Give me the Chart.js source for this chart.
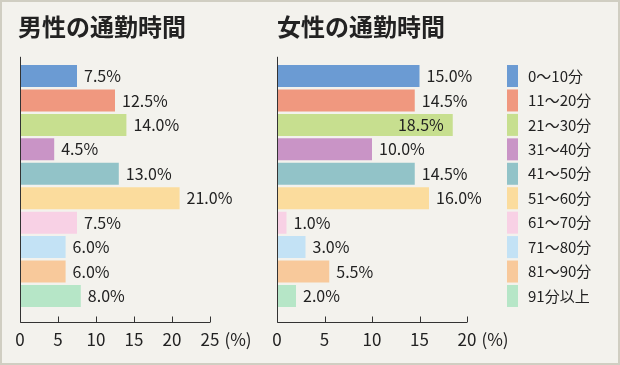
<!DOCTYPE html>
<html lang="ja">
<head>
<meta charset="utf-8">
<script src="https://cdn.jsdelivr.net/npm/chart.js@4"></script>
<style>
html, body { margin: 0; padding: 0; }
body { width: 620px; height: 365px; background: #f3f2ed; position: relative; overflow: hidden; }
#frame { position: absolute; left: 0; top: 0; width: 620px; height: 365px; box-sizing: border-box; border: 2px solid #d0cec2; pointer-events: none; }
#male { position: absolute; left: 0; top: 0; }
#female { position: absolute; left: 260px; top: 0; }
</style>
</head>
<body>
<canvas id="male" width="260" height="365"></canvas>
<canvas id="female" width="360" height="365"></canvas>
<div id="frame"></div>
<script>
var categories = ['0～10分', '11～20分', '21～30分', '31～40分', '41～50分', '51～60分', '61～70分', '71～80分', '81～90分', '91分以上'];
var maleValues = [7.5, 12.5, 14.0, 4.5, 13.0, 21.0, 7.5, 6.0, 6.0, 8.0];
var femaleValues = [15.0, 14.5, 18.5, 10.0, 14.5, 16.0, 1.0, 3.0, 5.5, 2.0];
var barColors = ['#6b9bd3', '#f0987f', '#c7df8f', '#c994c6', '#92c3c8', '#fbdc9d', '#f8d1e5', '#c3e2f5', '#f8c99b', '#b6e6c7'];
var maleTicks = [0, 5, 10, 15, 20, 25];
var femaleTicks = [0, 5, 10, 15, 20];

var FONT = '"Noto Sans CJK JP", "Noto Sans", sans-serif';
var TICK_PAD = 13;
var TICK_SIZE = 17;

// 棒の先に値を書く（はみ出す時は棒の中）
var barLabels = {
    id: 'barLabels',
    afterDatasetsDraw: function (chart, args, opts) {
        var ctx = chart.ctx;
        var meta = chart.getDatasetMeta(0);
        var values = chart.data.datasets[0].data;
        ctx.save();
        ctx.font = '16px ' + FONT;
        ctx.fillStyle = '#222';
        ctx.textBaseline = 'middle';
        meta.data.forEach(function (bar, i) {
            var text = values[i].toFixed(1) + '%';
            var w = ctx.measureText(text).width;
            if (bar.x + 7 + w > opts.limit) {
                ctx.textAlign = 'right';
                ctx.fillText(text, bar.x - 9, bar.y);
            } else {
                ctx.textAlign = 'left';
                ctx.fillText(text, bar.x + 7, bar.y);
            }
        });
        ctx.restore();
    }
};

// 軸の線と目盛り
var axisLines = {
    id: 'axisLines',
    afterDraw: function (chart) {
        var ctx = chart.ctx;
        var area = chart.chartArea;
        var xs = chart.scales.x;
        var base = Math.round(area.bottom + 14) + 0.5;
        var left = Math.round(area.left) + 0.5;
        ctx.save();
        ctx.strokeStyle = '#333';
        ctx.lineWidth = 1;
        ctx.beginPath();
        ctx.moveTo(left, area.top - 7);
        ctx.lineTo(left, base);
        ctx.lineTo(xs.getPixelForValue(xs.max), base);
        xs.ticks.forEach(function (t) {
            var x = Math.round(xs.getPixelForValue(t.value)) + 0.5;
            ctx.moveTo(x, base);
            ctx.lineTo(x, base - 6);
        });
        ctx.stroke();

        ctx.font = TICK_SIZE + 'px ' + FONT;
        ctx.fillStyle = '#222';
        ctx.textBaseline = 'middle';
        ctx.textAlign = 'left';
        var last = xs.ticks[xs.ticks.length - 1];
        var lw = ctx.measureText(String(last.value)).width;
        var ly = xs.top + 8 + TICK_PAD + TICK_SIZE * 1.2 / 2;
        ctx.fillText('(%)', xs.getPixelForValue(last.value) + lw / 2 + 5, ly);
        ctx.restore();
    }
};

// 右側の凡例
var sideLegend = {
    id: 'sideLegend',
    afterDraw: function (chart, args, opts) {
        if (!opts.show) return;
        var ctx = chart.ctx;
        var ys = chart.scales.y;
        var meta = chart.getDatasetMeta(0);
        ctx.save();
        ctx.font = '15px ' + FONT;
        ctx.textBaseline = 'middle';
        ctx.textAlign = 'left';
        chart.data.labels.forEach(function (label, i) {
            var y = ys.getPixelForValue(i);
            var h = meta.data[i].height;
            ctx.fillStyle = barColors[i];
            ctx.fillRect(opts.x, y - h / 2, 11, h);
            ctx.fillStyle = '#222';
            ctx.fillText(label, opts.x + 21, y);
        });
        ctx.restore();
    }
};

function makeChart(id, title, values, ticks, pad, yWidth, limit, legendX) {
    return new Chart(document.getElementById(id), {
        type: 'bar',
        data: {
            labels: categories,
            datasets: [{
                data: values,
                backgroundColor: barColors,
                borderWidth: 0,
                barPercentage: 0.9,
                categoryPercentage: 1.0
            }]
        },
        options: {
            indexAxis: 'y',
            responsive: false,
            animation: false,
            events: [],
            layout: { padding: { left: pad.left, right: pad.right, top: 0, bottom: 0 } },
            scales: {
                x: {
                    min: ticks[0],
                    max: ticks[ticks.length - 1],
                    afterBuildTicks: function (scale) {
                        scale.ticks = ticks.map(function (v) { return { value: v }; });
                    },
                    afterFit: function (scale) {
                        scale.height = 365 - 308.2;
                        scale.paddingLeft = 0;
                        scale.paddingRight = 0;
                    },
                    grid: { display: false },
                    border: { display: false },
                    ticks: {
                        padding: TICK_PAD,
                        color: '#222',
                        font: { family: FONT, size: TICK_SIZE },
                        maxRotation: 0
                    }
                },
                y: {
                    grid: { display: false },
                    border: { display: false },
                    ticks: { display: false },
                    afterFit: function (scale) {
                        scale.width = yWidth;
                        scale.paddingTop = 0;
                        scale.paddingBottom = 0;
                    }
                }
            },
            plugins: {
                legend: { display: false },
                tooltip: { enabled: false },
                title: {
                    display: true,
                    text: title,
                    align: 'start',
                    color: '#222',
                    font: { family: FONT, size: 24, weight: 'bold', lineHeight: 1.2 },
                    padding: { top: 12, bottom: 23 }
                },
                barLabels: { limit: limit },
                sideLegend: { show: legendX != null, x: legendX }
            }
        },
        plugins: [barLabels, axisLines, sideLegend]
    });
}

makeChart('male', '男性の通勤時間', maleValues, maleTicks, { left: 18, right: 50 }, 2, 260, null);
makeChart('female', '女性の通勤時間', femaleValues, femaleTicks, { left: 17, right: 153 }, 0, 240, 247);
</script>
</body>
</html>
